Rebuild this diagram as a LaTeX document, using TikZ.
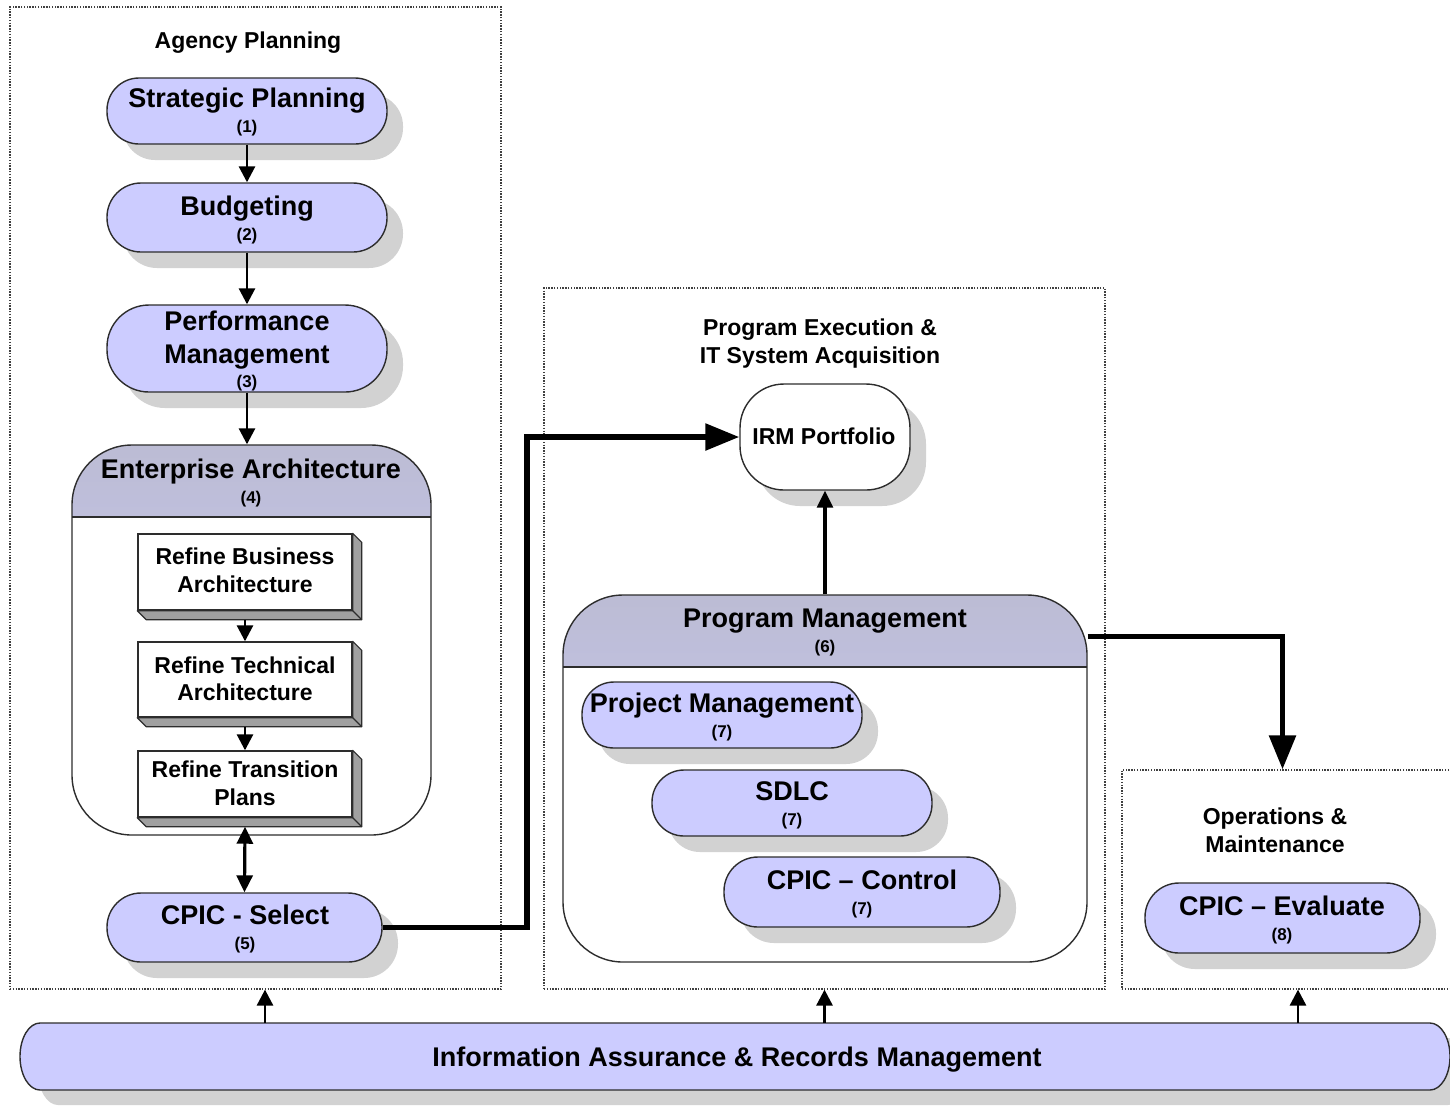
\documentclass[tikz,border=0pt]{standalone}
\usepackage{fontspec}
\setmainfont{Liberation Sans}
\usetikzlibrary{arrows.meta,shadows,calc}
\definecolor{lav}{RGB}{204,204,255}
\definecolor{lavtop}{RGB}{188,188,212}
\definecolor{shad}{RGB}{210,210,210}
\definecolor{edge}{RGB}{45,45,45}
\definecolor{extr}{RGB}{160,160,160}
\tikzset{
  pill/.style={draw=edge, line width=0.7pt, fill=lav, rounded corners=#1, inner sep=0pt,
    drop shadow={shadow xshift=8pt, shadow yshift=-8pt, fill=shad, opacity=1, draw=none}},
  whitepill/.style={pill=#1, fill=white},
  mtxt/.style={font=\fontsize{13.5}{16}\selectfont\bfseries, inner sep=0pt, anchor=base},
  ntxt/.style={font=\fontsize{8.5}{10}\selectfont\bfseries, inner sep=0pt, anchor=base},
  ttxt/.style={font=\fontsize{11.5}{14}\selectfont\bfseries, inner sep=0pt, anchor=base},
  zone/.style={draw=black!75, line width=0.6pt, dash pattern=on 0.7pt off 0.7pt, inner sep=0pt},
  container/.style={draw=edge, line width=0.7pt, fill=white, rounded corners=30pt, inner sep=0pt,
    path picture={
      \shade[sharp corners, top color=lavtop, bottom color=lav]
        (path picture bounding box.north west) rectangle ([yshift=-36pt]path picture bounding box.north east);
      \draw[sharp corners, edge, line width=0.7pt]
        ([yshift=-36pt]path picture bounding box.north west) -- ([yshift=-36pt]path picture bounding box.north east);
    }},
  rbox/.style={draw=edge, line width=0.7pt, fill=white, minimum width=107pt, inner sep=0pt},
  extrude/.style={fill=extr, draw=edge, line width=0.6pt, line join=round},
  thinarrow/.style={line width=1.4pt, -{Triangle[length=8pt,width=8pt]}},
  midarrow/.style={line width=1.6pt, -{Triangle[length=8.5pt,width=8pt]}},
  thickarrow/.style={line width=2.8pt, -{Triangle[length=17pt,width=13pt]}},
}
\newcommand\extrudebox[1]{%
  \filldraw[extrude] (#1.north east) -- ++(4.5pt,-4.5pt) -- ([shift={(4.5pt,-4.5pt)}]#1.south east)
    -- ([shift={(4.5pt,-4.5pt)}]#1.south west) -- (#1.south west) -- (#1.south east) -- cycle;
  \draw[edge, line width=0.6pt] (#1.south east) -- ++(4.5pt,-4.5pt);
}
\begin{document}
\begin{tikzpicture}[x=0.5pt,y=-0.5pt]
\useasboundingbox (0,0) rectangle (1450,1105);

% ---------- zones ----------
\node[zone, minimum width=245.5pt, minimum height=491pt] (ap) at (255.5,498) {};
\node[zone, minimum width=280.5pt, minimum height=350.5pt] (pe) at (824.5,638.5) {};
\node[zone, minimum width=174pt, minimum height=109.5pt] (ops) at (1296,879.5) {};
\node[ttxt] (apt) at (248,48) {Agency Planning};
\node[ttxt] (pet1) at (820,335) {Program Execution \&};
\node[ttxt] (pet2) at (820,363) {IT System Acquisition};
\node[ttxt] (opst1) at (1275,824) {Operations \&};
\node[ttxt] (opst2) at (1275,852) {Maintenance};

% ---------- agency planning column ----------
\node[pill=16pt, minimum width=140pt, minimum height=33pt] (sp) at (247,111) {};
\node[mtxt] (spa) at (247,107) {Strategic Planning};
\node[ntxt] (spb) at (247,132) {(1)};

\node[pill=17pt, minimum width=140pt, minimum height=34.5pt] (bud) at (247,217.5) {};
\node[mtxt] (buda) at (247,215) {Budgeting};
\node[ntxt] (budb) at (247,240) {(2)};

\node[pill=21pt, minimum width=140pt, minimum height=43.5pt] (perf) at (247,348.5) {};
\node[mtxt] (perfa) at (247,330) {Performance};
\node[mtxt] (perfb) at (247,363) {Management};
\node[ntxt] (perfc) at (247,387) {(3)};

\node[container, minimum width=179.5pt, minimum height=195pt] (ea) at (251.5,640) {};
\node[mtxt] (eaa) at (251,478) {Enterprise Architecture};
\node[ntxt] (eab) at (251,503) {(4)};

\node[rbox, minimum height=38pt] (rb) at (245,572) {};
\extrudebox{rb}
\node[ttxt] (rba) at (245,564) {Refine Business};
\node[ttxt] (rbb) at (245,592) {Architecture};

\node[rbox, minimum height=37.5pt] (rt) at (245,679.5) {};
\extrudebox{rt}
\node[ttxt] (rta) at (245,673) {Refine Technical};
\node[ttxt] (rtb) at (245,700) {Architecture};

\node[rbox, minimum height=33pt] (rp) at (245,784) {};
\extrudebox{rp}
\node[ttxt] (rpa) at (245,777) {Refine Transition};
\node[ttxt] (rpb) at (245,805) {Plans};

\node[pill=17pt, minimum width=137.5pt, minimum height=34.5pt] (cs) at (244.5,927.5) {};
\node[mtxt] (csa) at (245,924) {CPIC - Select};
\node[ntxt] (csb) at (245,949) {(5)};

% ---------- program execution ----------
\node[whitepill=22pt, minimum width=85pt, minimum height=53pt] (irm) at (825,437) {};
\node[ttxt] (irma) at (824,444) {IRM Portfolio};

\node[container, minimum width=262pt, minimum height=183.5pt] (pm) at (825,778.5) {};
\node[mtxt] (pma) at (825,627) {Program Management};
\node[ntxt] (pmb) at (825,652) {(6)};

\node[pill=16pt, minimum width=140pt, minimum height=33pt] (prj) at (722,715) {};
\node[mtxt] (prja) at (722,712) {Project Management};
\node[ntxt] (prjb) at (722,737) {(7)};

\node[pill=16pt, minimum width=140pt, minimum height=33pt] (sdlc) at (792,803) {};
\node[mtxt] (sdlca) at (792,800) {SDLC};
\node[ntxt] (sdlcb) at (792,825) {(7)};

\node[pill=17pt, minimum width=138pt, minimum height=35pt] (ctl) at (862,892) {};
\node[mtxt] (ctla) at (862,889) {CPIC -- Control};
\node[ntxt] (ctlb) at (862,914) {(7)};

% ---------- operations ----------
\node[pill=17pt, minimum width=137.5pt, minimum height=35pt] (cev) at (1282.5,918) {};
\node[mtxt] (ceva) at (1282,915) {CPIC -- Evaluate};
\node[ntxt] (cevb) at (1282,940) {(8)};

% ---------- information assurance bar ----------
\begin{scope}[shift={(18,15)}]
  \fill[shad] (40,1023) -- (1430,1023) arc[start angle=90, end angle=-90, x radius=10pt, y radius=16.75pt]
    -- (40,1090) arc[start angle=270, end angle=90, x radius=10pt, y radius=16.75pt] -- cycle;
\end{scope}
\filldraw[fill=lav, draw=edge, line width=0.7pt] (40,1023) -- (1430,1023)
    arc[start angle=90, end angle=-90, x radius=10pt, y radius=16.75pt]
    -- (40,1090) arc[start angle=270, end angle=90, x radius=10pt, y radius=16.75pt] -- cycle;
\node[inner sep=0pt, minimum width=715pt, minimum height=33.5pt] (ia) at (735,1056.5) {};
\node[mtxt] (iaa) at (737,1066) {Information Assurance \& Records Management};

% ---------- connectors ----------
\draw[thinarrow] (sp) -- (bud);
\draw[thinarrow] (bud) -- (perf);
\draw[thinarrow] (perf.south) -- (perf.south |- ea.north);
\draw[thinarrow] ([yshift=-4.5pt]rb.south) -- (rt.north);
\draw[thinarrow] ([yshift=-4.5pt]rt.south) -- (rp.north);
\draw[line width=1.6pt, {Triangle[length=8.5pt,width=8pt]}-{Triangle[length=8.5pt,width=8pt]}]
  ([yshift=-4.5pt]rp.south) -- (cs.north);

\coordinate (bend) at (527,600);
\draw[thickarrow] (cs.east) -- (cs.east -| bend) |- (irm.west);
\draw[midarrow] (pm.north) -- (irm.south);
\coordinate (pmout) at ([yshift=-21pt]pm.north east);
\draw[thickarrow] (pmout) -| (cev.north |- ops.north);

\coordinate (u1) at (265,0);
\coordinate (u3) at (1298,0);
\draw[thinarrow] (ia.north -| u1) -- (ap.south -| u1);
\draw[thinarrow] (ia.north -| pe.south) -- (pe.south);
\draw[thinarrow] (ia.north -| u3) -- (ops.south -| u3);
\end{tikzpicture}
\end{document}
